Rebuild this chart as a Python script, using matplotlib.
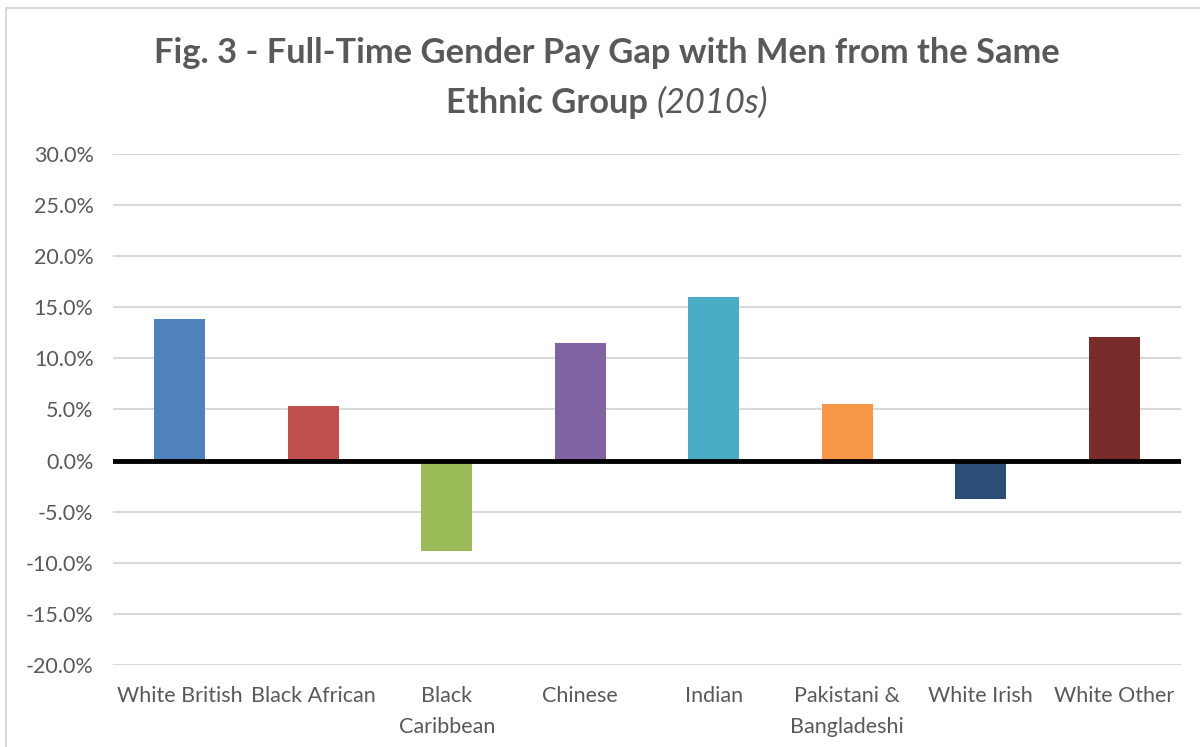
"""
Fig. 3 - Full-time gender pay gap with men from the same ethnic group (2010s).
Bar chart in Excel style.
"""
import matplotlib.pyplot as plt
from matplotlib.patches import Rectangle
from matplotlib.ticker import FuncFormatter
import numpy as np

# Data
groups = ["White British", "Black African", "Black\nCaribbean", "Chinese",
          "Indian", "Pakistani &\nBangladeshi", "White Irish", "White Other"]
pay_gap = [13.9, 5.3, -8.8, 11.5, 16.0, 5.5, -3.8, 12.1]
bar_colors = ["#4F81BD", "#C0504D", "#9BBB59", "#8064A2",
              "#4BACC6", "#F79646", "#2C4D75", "#772C2A"]
y_ticks = [-20, -15, -10, -5, 0, 5, 10, 15, 20, 25, 30]

TEXT = "#595959"
plt.rcParams['font.family'] = ['Lato', 'DejaVu Sans']

W, H = 1200, 747
fig = plt.figure(figsize=(W / 100, H / 100), dpi=100)

# light chart frame (cropped Excel chart border)
fig.patches.append(Rectangle((6 / W, -0.1), 1.2, 1 - 8 / H + 0.1,
                             transform=fig.transFigure, fill=False,
                             edgecolor="#d9d9d9", linewidth=1.5))

ax = fig.add_axes([113 / W, 1 - 665 / H, (1181 - 113) / W, (665 - 154) / H])
x = np.arange(len(groups))
ax.bar(x, pay_gap, width=0.38, color=bar_colors, zorder=3)

ax.set_xlim(-0.5, len(groups) - 0.5)
ax.set_ylim(-20, 30)
ax.set_yticks(y_ticks)
ax.yaxis.set_major_formatter(FuncFormatter(lambda v, _: f"{v:.1f}%"))
ax.set_xticks(x)
ax.set_xticklabels(groups, linespacing=1.7)
ax.tick_params(axis="both", length=0, labelsize=15.5, colors=TEXT)
ax.tick_params(axis="x", pad=15)
ax.tick_params(axis="y", pad=14)

ax.grid(axis="y", color="#d9d9d9", linewidth=1.5, zorder=0)
ax.axhline(0, color="black", linewidth=3.5, zorder=4)
for s in ax.spines.values():
    s.set_visible(False)

# Title: bold main text, italic year tag
cx = 607 / W
fig.text(cx, 1 - 53 / H, "Fig. 3 - Full-Time Gender Pay Gap with Men from the Same",
         ha="center", va="center", fontsize=24.8, fontweight="bold", color=TEXT)
t1 = fig.text(0, 1 - 103 / H, "Ethnic Group ", ha="left", va="center",
              fontsize=24.8, fontweight="bold", color=TEXT)
t2 = fig.text(0, 1 - 103 / H, "(2010s)", ha="left", va="center",
              fontsize=24.8, fontstyle="italic", color=TEXT)
r = fig.canvas.get_renderer()
w1 = t1.get_window_extent(r).width / W
w2 = t2.get_window_extent(r).width / W
start = cx - (w1 + w2) / 2
t1.set_x(start)
t2.set_x(start + w1)

fig.savefig("out.png", dpi=100)
